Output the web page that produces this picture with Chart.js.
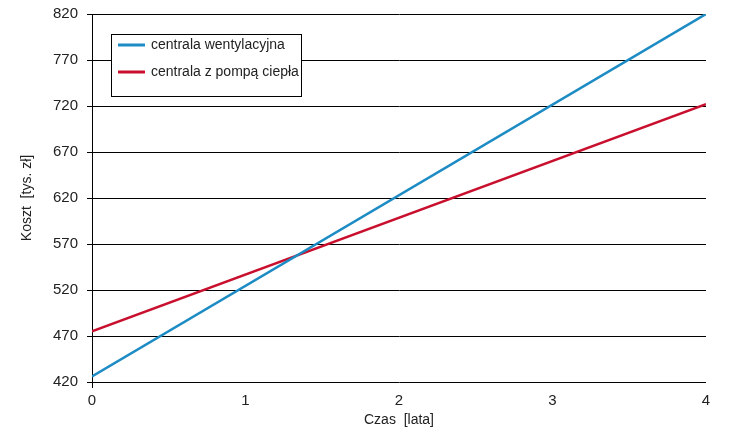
<!DOCTYPE html>
<html>
<head>
<meta charset="utf-8">
<script src="https://cdn.jsdelivr.net/npm/chart.js@4"></script>
<style>
  body { margin: 0; background: #fff; }
  #wrap { width: 748px; height: 439px; }
</style>
</head>
<body>
<div id="wrap"><canvas id="canvas" width="748" height="439"></canvas></div>
<script>
// dane (koszt w tys. zł, czas w latach)
const seriesNames = ['centrala wentylacyjna', 'centrala z pompą ciepła'];
const seriesColors = ['#1d8bc4', '#c8102e'];
const years = [0, 4];
const kosztWentylacja = [426, 820];
const kosztPompa = [475, 722];
const yTicks = [420, 470, 520, 570, 620, 670, 720, 770, 820];
const xTicks = [0, 1, 2, 3, 4];

const FONT = "'Liberation Sans Narrow', 'Arial Narrow', 'Liberation Sans', sans-serif";

function toPoints(xs, ys) {
    let pts = [];
    for (let i = 0; i < xs.length; i++) {
        pts.push({ x: xs[i], y: ys[i] });
    }
    return pts;
}

// legenda w ramce wewnątrz obszaru wykresu
const boxLegend = {
    id: 'boxLegend',
    afterDraw(chart) {
        const ctx = chart.ctx;
        const a = chart.chartArea;
        const x = a.left + 19, y = a.top + 20, w = 190, h = 62;
        ctx.save();
        ctx.fillStyle = '#fff';
        ctx.fillRect(x, y, w, h);
        ctx.strokeStyle = '#000';
        ctx.lineWidth = 1;
        ctx.strokeRect(x + 0.5, y + 0.5, w, h);
        ctx.font = '14px ' + FONT;
        ctx.textBaseline = 'middle';
        chart.data.datasets.forEach((ds, i) => {
            const ly = y + 11 + i * 27;
            ctx.strokeStyle = ds.borderColor;
            ctx.lineWidth = 3;
            ctx.beginPath();
            ctx.moveTo(x + 7, ly);
            ctx.lineTo(x + 34, ly);
            ctx.stroke();
            ctx.fillStyle = '#222';
            ctx.fillText(ds.label, x + 40, ly);
        });
        ctx.restore();
    }
};

let ctx = document.getElementById('canvas').getContext('2d');

let chart = new Chart(ctx, {
    type: 'line',
    data: {
        datasets: [{
            label: seriesNames[0],
            data: toPoints(years, kosztWentylacja),
            borderColor: seriesColors[0],
            borderWidth: 2.5,
            pointRadius: 0,
            tension: 0
        }, {
            label: seriesNames[1],
            data: toPoints(years, kosztPompa),
            borderColor: seriesColors[1],
            borderWidth: 2.5,
            pointRadius: 0,
            tension: 0
        }]
    },
    options: {
        responsive: false,
        animation: false,
        layout: { padding: { left: 0, right: 42, top: 14, bottom: 0 } },
        plugins: {
            legend: { display: false },
            tooltip: { enabled: false }
        },
        scales: {
            x: {
                type: 'linear',
                min: 0,
                max: 4,
                afterBuildTicks: (scale) => { scale.ticks = xTicks.map(v => ({ value: v })); },
                afterFit: (scale) => { scale.height = 57; },
                grid: {
                    drawOnChartArea: false,
                    tickLength: 6,
                    color: (c) => (c.tick && c.tick.value === 0) ? '#000' : 'rgba(0,0,0,0)'
                },
                border: { display: false },
                ticks: { color: '#222', font: { family: FONT, size: 15 }, padding: 4 },
                title: {
                    display: true,
                    text: 'Czas  [lata]',
                    color: '#222',
                    font: { family: FONT, size: 14 },
                    padding: { top: 0, bottom: 10 }
                }
            },
            y: {
                min: 420,
                max: 820,
                afterBuildTicks: (scale) => { scale.ticks = yTicks.map(v => ({ value: v })); },
                afterFit: (scale) => {
                    scale.width = 92;
                    scale.paddingTop = 0;
                    scale.paddingBottom = 0;
                },
                grid: { color: '#000', lineWidth: 1, tickLength: 5 },
                border: { display: true, color: '#000', width: 1 },
                ticks: { color: '#222', font: { family: FONT, size: 15 }, padding: 9 },
                title: {
                    display: true,
                    text: 'Koszt  [tys. zł]',
                    color: '#222',
                    font: { family: FONT, size: 14 },
                    padding: { top: 19, bottom: 0 }
                }
            }
        }
    },
    plugins: [boxLegend]
});
</script>
</body>
</html>
